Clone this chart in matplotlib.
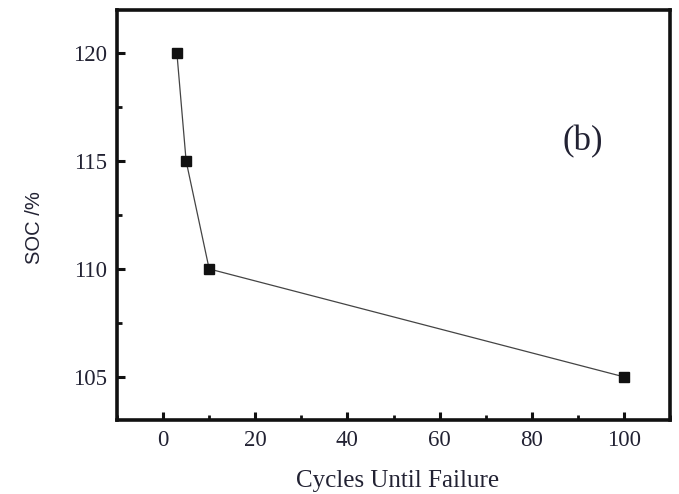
import matplotlib
matplotlib.use("Agg")
import matplotlib.pyplot as plt
from matplotlib.ticker import MultipleLocator

cycles = [3, 5, 10, 100]
soc = [120, 115, 110, 105]

plt.rcParams['font.family'] = ['Liberation Serif', 'DejaVu Serif']

W, H = 679, 494
fig = plt.figure(figsize=(W / 100, H / 100), dpi=100)
ax = fig.add_axes([117 / W, 1 - 420 / H, (670 - 117) / W, (420 - 10) / H])
ax.plot(cycles, soc, color='#444444', lw=0.9, marker='s', markersize=7,
        markerfacecolor='#111111', markeredgecolor='#111111')
ax.set_xlim(-10, 110)
ax.set_ylim(103, 122)
ax.xaxis.set_major_locator(MultipleLocator(20))
ax.xaxis.set_minor_locator(MultipleLocator(10))
ax.yaxis.set_major_locator(MultipleLocator(5))
ax.yaxis.set_minor_locator(MultipleLocator(2.5))
for s in ax.spines.values():
    s.set_linewidth(2.6)
    s.set_color('#111111')
ax.tick_params(which='major', direction='in', length=6, width=2.2, labelsize=16.5,
               colors='#111111', labelcolor='#222233', pad=7)
ax.tick_params(which='minor', direction='in', length=3.5, width=2, colors='#111111')
fig.text(398 / W, 1 - 487 / H, 'Cycles Until Failure', fontsize=18, color='#222233',
         ha='center', va='baseline')
fig.text(35 / W, 1 - 228 / H, 'SOC /%', fontsize=14.5, color='#222233',
         ha='center', va='center', rotation=90, family=['Liberation Sans', 'DejaVu Sans'])
ax.text(91, 115.9, '(b)', fontsize=25, color='#222233', ha='center', va='center')
fig.savefig('out.png', dpi=100)
